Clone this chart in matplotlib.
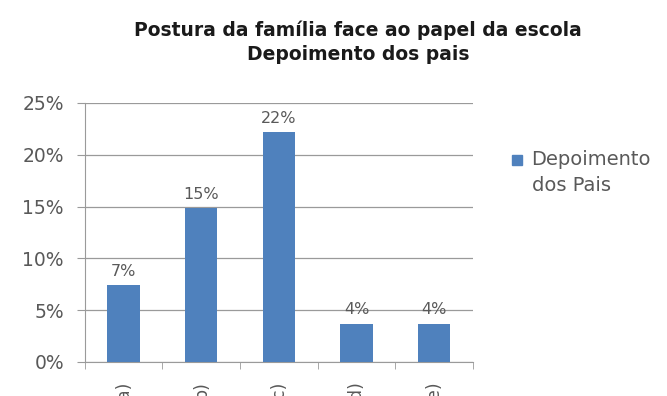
import matplotlib.pyplot as plt
import matplotlib.ticker as mticker
from matplotlib.patches import Rectangle
import numpy as np

# Respostas dos pais por categoria (fração do total)
categorias = ["a)", "b)", "c)", "d)", "e)"]
valores = [2 / 27, 4 / 27, 6 / 27, 1 / 27, 1 / 27]
serie = "Depoimento\ndos Pais"

azul = "#4F81BD"
cinza = "#595959"

fig = plt.figure(figsize=(6.67, 3.96), dpi=100)
ax = fig.add_axes([0.127, 0.086, 0.582, 0.654])

x = np.arange(len(categorias))
barras = ax.bar(x, valores, width=0.42, color=azul, zorder=3, label=serie)

for b, v in zip(barras, valores):
    ax.text(b.get_x() + b.get_width() / 2, v + 0.006, f"{v:.0%}",
            ha="center", va="bottom", fontsize=11.5, color=cinza)

ax.set_xlim(-0.5, len(categorias) - 0.5)
ax.set_ylim(0, 0.25)
ax.yaxis.set_major_locator(mticker.MultipleLocator(0.05))
ax.yaxis.set_major_formatter(mticker.PercentFormatter(1.0, decimals=0))
ax.grid(axis="y", color="#9a9a9a", linewidth=0.9, zorder=0)

ax.set_xticks(x)
ax.set_xticklabels(categorias, rotation=90, fontsize=12.5, color=cinza)
ax.tick_params(axis="x", length=0, pad=14)
ax.set_xticks(np.arange(-0.5, len(categorias)), minor=True)
ax.tick_params(axis="x", which="minor", length=5, color="#9a9a9a")
ax.tick_params(axis="y", labelsize=13.5, labelcolor=cinza, length=6,
               color="#9a9a9a", pad=9)

for lado in ["top", "right"]:
    ax.spines[lado].set_visible(False)
for lado in ["left", "bottom"]:
    ax.spines[lado].set_color("#9a9a9a")

fig.text(0.537, 0.893, "Postura da família face ao papel da escola\nDepoimento dos pais",
         ha="center", va="center", fontsize=13.5, fontweight="bold",
         color="#1a1a1a", linespacing=1.3)

# legenda: quadrado alinhado com a primeira linha do texto
fig.patches.append(Rectangle((0.768, 0.583), 0.015, 0.025, color=azul,
                             transform=fig.transFigure, figure=fig))
fig.text(0.797, 0.622, serie, ha="left", va="top", fontsize=14,
         color=cinza, linespacing=1.5)

fig.savefig("out.png", dpi=100)
